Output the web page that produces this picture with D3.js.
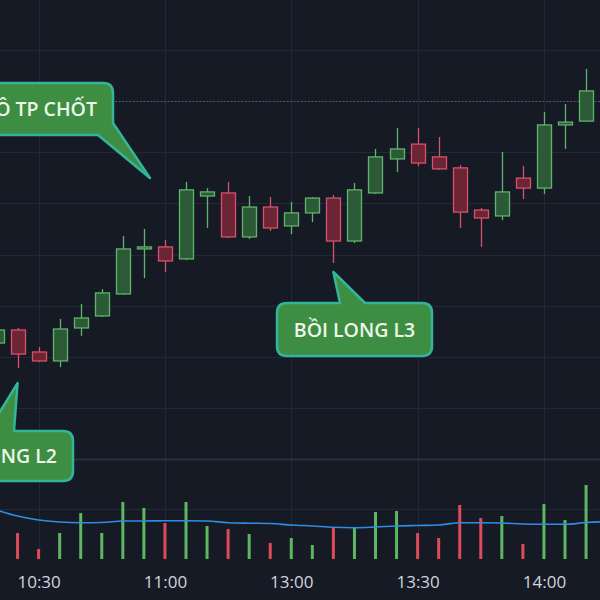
<!DOCTYPE html>
<html>
<head>
<meta charset="utf-8">
<script src="https://cdn.jsdelivr.net/npm/d3@7"></script>
<style>
  html, body { margin: 0; padding: 0; background: #161a25; }
  svg { display: block; }
</style>
</head>
<body>
<svg id="chart" width="600" height="600"></svg>
<script>
// ---- data (5-minute candles) ----
const times = ["10:20","10:25","10:30","10:35","10:40","10:45","10:50","10:55","11:00","11:05","11:10","11:15","11:20","11:25",
               "13:00","13:05","13:10","13:15","13:20","13:25","13:30","13:35","13:40","13:45","13:50","13:55","14:00","14:05","14:10","14:15"];
const openP  = [1308.54,1309.05,1308.19,1307.84,1309.13,1309.60,1310.46,1312.22,1312.30,1311.83,1314.29,1314.41,1312.69,1313.86,1313.12,1313.63,1314.21,1312.53,1314.41,1315.74,1316.32,1315.82,1315.39,1313.74,1313.51,1314.99,1314.60,1317.07,1317.22];
const highP  = [1309.25,1309.13,1308.39,1309.48,1310.07,1310.65,1312.73,1313.00,1312.57,1314.84,1314.60,1314.84,1314.29,1314.25,1314.06,1314.25,1314.33,1314.80,1316.13,1316.95,1316.95,1316.60,1315.50,1313.82,1316.01,1315.46,1317.58,1317.89,1319.26];
const lowP   = [1308.39,1307.56,1307.80,1307.60,1308.82,1309.56,1310.42,1311.08,1311.32,1311.79,1313.04,1312.65,1312.61,1312.92,1312.80,1313.27,1311.67,1312.45,1314.37,1315.23,1315.46,1315.31,1313.04,1312.30,1313.35,1314.17,1314.37,1316.13,1317.22];
const closeP = [1309.05,1308.11,1307.84,1309.09,1309.52,1310.50,1312.22,1312.30,1311.75,1314.53,1314.45,1312.69,1313.86,1313.04,1313.63,1314.21,1312.53,1314.53,1315.82,1316.13,1315.58,1315.35,1313.66,1313.43,1314.45,1314.60,1317.07,1317.18,1318.40];
const volume = [3000,2600,1000,2600,4600,2600,5700,5100,3600,5700,3300,3000,2500,1600,2100,1400,3100,3100,4700,4800,2600,2100,5400,4100,4300,1500,5500,3900,7400];
const volMA  = [4900,4300,3900,3700,3630,3650,3800,3800,3830,3830,3800,3630,3580,3550,3400,3300,3170,3130,3200,3300,3350,3400,3630,3630,3600,3500,3470,3470,3650,3730];
const xTickLabels = ["10:30","11:00","13:00","13:30","14:00"];
const priceGrid = [1306,1308,1310,1312,1314,1316,1318,1320,1322];
const volGrid = [5000];
const markerPrice = 1318;
const callouts = [
  { text: "Ô TP CHỐT",    anchor: "end",    box: [-20, 83, 113, 135] },
  { text: "BỒI LONG L3",  anchor: "middle", box: [277, 303, 432, 356] },
  { text: "BỒI LONG L2",  anchor: "end",    box: [-20, 431, 73, 481] }
];

// ---- setup ----
const W = 600, H = 600;
const svg = d3.select("#chart");
const candles = openP.map((o, k) => ({ i: k, t: times[k], o, h: highP[k], l: lowP[k], c: closeP[k], v: volume[k] }));

const x = d3.scaleLinear().domain([0, 27]).range([-3.5, 565]); // index -> pixel (index 0 = 10:20)
const y = d3.scaleLinear().domain([1306, 1320]).range([408, 50]);
const yv = d3.scaleLinear().domain([0, 10000]).range([559, 459]);

const upStroke = "#5fb36a", upFill = "#2c5a37";
const dnStroke = "#d9506a", dnFill = "#6b2535";
const gridC = "#232836";

// grid
const g = svg.append("g");
g.selectAll(".hg").data(priceGrid).join("line")
  .attr("x1", 0).attr("x2", W).attr("y1", d => Math.round(y(d)) + 0.5).attr("y2", d => Math.round(y(d)) + 0.5)
  .attr("stroke", gridC).attr("stroke-width", 1);
g.selectAll(".vg").data(volGrid).join("line")
  .attr("x1", 0).attr("x2", W).attr("y1", d => Math.round(yv(d)) + 0.5).attr("y2", d => Math.round(yv(d)) + 0.5)
  .attr("stroke", gridC).attr("stroke-width", 1);
const tickIdx = xTickLabels.map(l => times.indexOf(l));
g.selectAll(".xg").data(tickIdx).join("line")
  .attr("x1", d => Math.round(x(d)) + 0.5).attr("x2", d => Math.round(x(d)) + 0.5)
  .attr("y1", 0).attr("y2", 560)
  .attr("stroke", gridC).attr("stroke-width", 1);

// pane separator
svg.append("line").attr("x1", 0).attr("x2", W).attr("y1", 459.5).attr("y2", 459.5)
  .attr("stroke", "#2a2f3c").attr("stroke-width", 2);

// dotted marker line
svg.append("line").attr("x1", 0).attr("x2", W)
  .attr("y1", Math.round(y(markerPrice)) + 0.5).attr("y2", Math.round(y(markerPrice)) + 0.5)
  .attr("stroke", "#5a5e6a").attr("stroke-width", 1).attr("stroke-dasharray", "1.5,2");

// volume bars
svg.append("g").selectAll("rect").data(candles).join("rect")
  .attr("x", d => x(d.i) - 1.5).attr("width", 3)
  .attr("y", d => yv(d.v)).attr("height", d => yv(0) - yv(d.v))
  .attr("fill", d => d.c >= d.o ? "#5cb85f" : "#dd4a5a");

// volume MA line
svg.append("path").datum(volMA)
  .attr("fill", "none").attr("stroke", "#2f8de4").attr("stroke-width", 1.6)
  .attr("d", d3.line().x((d, k) => x(k)).y(d => yv(d)).curve(d3.curveMonotoneX));

// candles
const cg = svg.append("g").selectAll("g").data(candles).join("g");
cg.append("line")
  .attr("x1", d => Math.round(x(d.i)) + 0.5).attr("x2", d => Math.round(x(d.i)) + 0.5)
  .attr("y1", d => y(d.h)).attr("y2", d => y(d.l))
  .attr("stroke", d => d.c >= d.o ? upStroke : dnStroke).attr("stroke-width", 1.3);
cg.append("rect")
  .attr("x", d => Math.round(x(d.i)) - 6.5).attr("width", 14)
  .attr("y", d => y(Math.max(d.o, d.c)))
  .attr("height", d => Math.max(2, Math.abs(y(d.o) - y(d.c))))
  .attr("fill", d => d.c >= d.o ? upFill : dnFill)
  .attr("stroke", d => d.c >= d.o ? upStroke : dnStroke).attr("stroke-width", 1.3);

// x axis labels
const axis = d3.axisBottom(x).tickValues(tickIdx).tickSize(0).tickPadding(16).tickFormat(d => times[d]);
const ax = svg.append("g").attr("transform", "translate(0,560)").call(axis);
ax.select(".domain").remove();
ax.selectAll("text").attr("fill", "#d1d4dc").attr("font-size", 17)
  .attr("font-family", "'Open Sans', 'Noto Sans', sans-serif");

// callouts (speech bubbles pointing at candles)
const tips = [
  [x(8) - 15, y(highP[9]) - 4],
  [x(16), y(lowP[16]) + 9],
  [x(1), y(lowP[1]) + 15]
];
function bubble(c, tip, side) {
  const [x0, y0, x1, y1] = c.box, r = 10;
  const p = d3.path();
  if (side === "br") {
    p.moveTo(x0 + r, y0);
    p.lineTo(x1 - r, y0); p.quadraticCurveTo(x1, y0, x1, y0 + r);
    p.lineTo(x1, y1 - 12);
    p.lineTo(tip[0], tip[1]);
    p.lineTo(x1 - 15, y1);
    p.lineTo(x0 + r, y1); p.quadraticCurveTo(x0, y1, x0, y1 - r);
    p.lineTo(x0, y0 + r); p.quadraticCurveTo(x0, y0, x0 + r, y0);
  } else {
    p.moveTo(x0 + r, y0);
    const bx = side === "tl" ? 8 : 63;
    const bw = side === "tl" ? 26 : 25;
    p.lineTo(x0 + bx, y0);
    p.lineTo(tip[0], tip[1]);
    p.lineTo(x0 + bx + bw, y0);
    p.lineTo(x1 - r, y0); p.quadraticCurveTo(x1, y0, x1, y0 + r);
    p.lineTo(x1, y1 - r); p.quadraticCurveTo(x1, y1, x1 - r, y1);
    p.lineTo(x0 + r, y1); p.quadraticCurveTo(x0, y1, x0, y1 - r);
    p.lineTo(x0, y0 + r); p.quadraticCurveTo(x0, y0, x0 + r, y0);
  }
  p.closePath();
  return p.toString();
}
const sides = ["br", "top", "tl"];
const cl = svg.append("g").selectAll("g").data(callouts).join("g");
cl.append("path")
  .attr("d", (d, k) => bubble(d, tips[k], sides[k]))
  .attr("fill", "#3d8e42").attr("stroke", "#33b59c").attr("stroke-width", 2.5).attr("stroke-linejoin", "round");
cl.append("text")
  .attr("x", d => d.anchor === "middle" ? (d.box[0] + d.box[2]) / 2 : d.box[2] - 16)
  .attr("y", d => (d.box[1] + d.box[3]) / 2 + 7)
  .attr("text-anchor", d => d.anchor)
  .attr("fill", "#eef6ea").attr("font-size", 19.5).attr("font-weight", 600)
  .attr("font-family", "'Open Sans', 'Noto Sans', sans-serif")
  .text(d => d.text);
</script>
</body>
</html>
